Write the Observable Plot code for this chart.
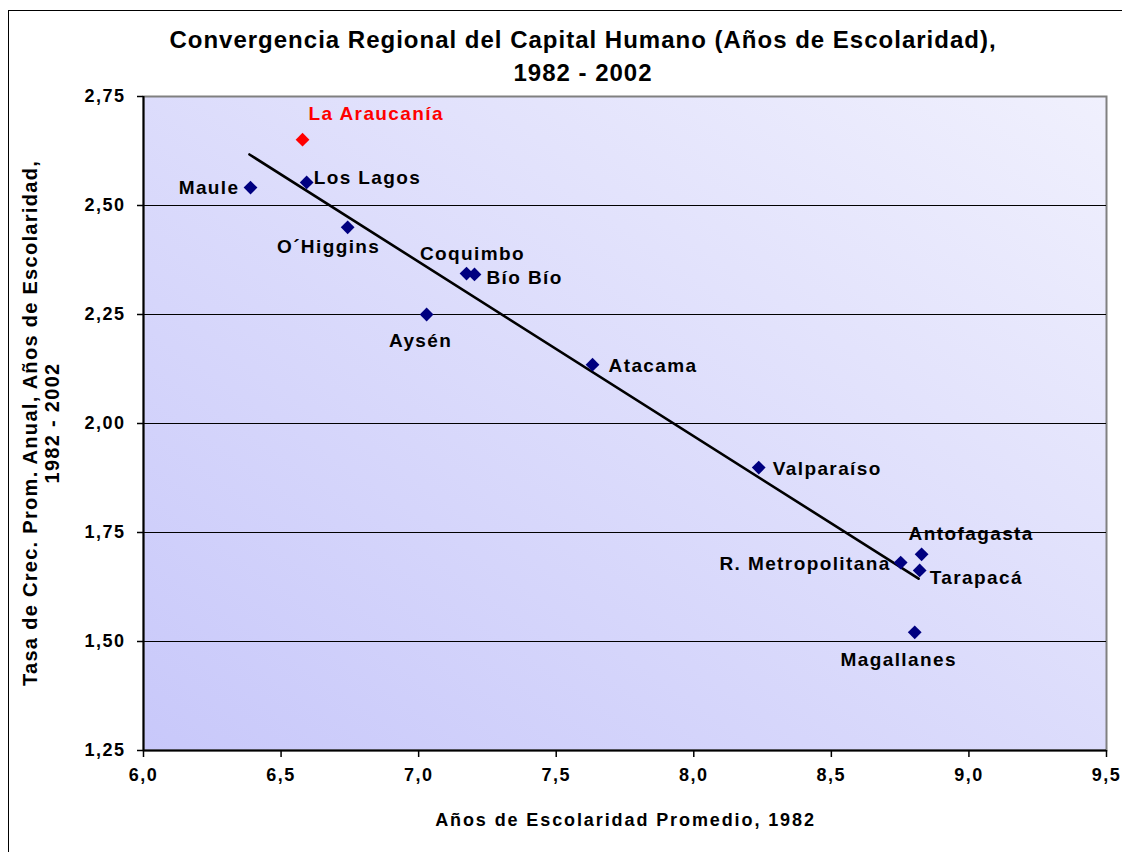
<!DOCTYPE html>
<html>
<head>
<meta charset="utf-8">
<script src="https://cdn.jsdelivr.net/npm/d3@7"></script>
<script src="https://cdn.jsdelivr.net/npm/@observablehq/plot@0.6"></script>
<style>
  html, body { margin: 0; padding: 0; background: #fff; overflow: hidden; width: 1122px; height: 852px; }
  #wrap { position: relative; width: 1122px; height: 852px; font-family: "Liberation Sans", Arial, sans-serif; font-weight: bold; color: #000; }
  #border { position: absolute; left: 8px; top: 10px; width: 1300px; height: 1000px; border: 1.5px solid #000; box-sizing: border-box; }
  #chart { position: absolute; left: 0; top: 0; }
  #title { position: absolute; left: 0; top: 23px; width: 1166px; text-align: center; font-size: 24px; letter-spacing: 1.0px; line-height: 33px; }
  #ytitle { position: absolute; left: -259px; top: 401px; width: 600px; height: 44px; text-align: center; font-size: 20px; letter-spacing: 1.3px; line-height: 22px; transform: rotate(-90deg); transform-origin: 300px 22px; }
  #xtitle { position: absolute; left: 0; top: 808px; width: 1251px; text-align: center; font-size: 18px; letter-spacing: 1.9px; line-height: 24px; }
  svg text { font-family: "Liberation Sans", Arial, sans-serif; font-weight: bold; }
  g[aria-label="y-axis tick label"] text { letter-spacing: 1.5px; }
  g[aria-label="x-axis tick label"] text { letter-spacing: 1.5px; }
  g[aria-label="text"] text { letter-spacing: 1.4px; }
</style>
</head>
<body>
<div id="wrap">
  <div id="border"></div>
  <div id="chart"></div>
  <div id="title">Convergencia Regional del Capital Humano (Años de Escolaridad),<br>1982 - 2002</div>
  <div id="ytitle">Tasa de Crec. Prom. Anual, Años de Escolaridad,<br>1982 - 2002</div>
  <div id="xtitle">Años de Escolaridad Promedio, 1982</div>
</div>
<script>
// ---- Data ----
const regiones = ["La Araucanía", "Maule", "Los Lagos", "O´Higgins", "Coquimbo", "Bío Bío", "Aysén", "Atacama", "Valparaíso", "R. Metropolitana", "Antofagasta", "Tarapacá", "Magallanes"];
const escolaridad1982 = [6.578, 6.389, 6.593, 6.742, 7.174, 7.203, 7.029, 7.632, 8.236, 8.752, 8.828, 8.821, 8.803];
const tasaCrecimiento = [2.651, 2.541, 2.553, 2.450, 2.344, 2.342, 2.250, 2.135, 1.899, 1.681, 1.700, 1.663, 1.521];
const tendenciaX = [6.385, 8.817];
const tendenciaY = [2.617, 1.644];
const xTicks = [6.0, 6.5, 7.0, 7.5, 8.0, 8.5, 9.0, 9.5];
const yTicks = [1.25, 1.50, 1.75, 2.00, 2.25, 2.50, 2.75];
const gridY = [1.50, 1.75, 2.00, 2.25, 2.50];

// label placement (style only)
const labelPlacement = {
  "La Araucanía": ["start", 6, -26],
  "Maule": ["end", -11, 0],
  "Los Lagos": ["start", 7, -4],
  "O´Higgins": ["middle", -19, 20],
  "Coquimbo": ["middle", 6, -20],
  "Bío Bío": ["start", 12, 4],
  "Aysén": ["middle", -6, 26],
  "Atacama": ["start", 16, 1],
  "Valparaíso": ["start", 14, 1],
  "R. Metropolitana": ["end", -10, 1],
  "Antofagasta": ["start", -13, -20],
  "Tarapacá": ["start", 10, 7],
  "Magallanes": ["middle", -16, 28]
};
const highlight = "La Araucanía";

const puntos = regiones.map((r, i) => ({region: r, x: escolaridad1982[i], y: tasaCrecimiento[i]}));
const tendencia = tendenciaX.map((x, i) => ({x, y: tendenciaY[i]}));
const comma = (f) => (d) => d3.format(f)(d).replace(".", ",");

const labelMarks = puntos.map(p => {
  const [anchor, dx, dy] = labelPlacement[p.region];
  return Plot.text([p], {
    x: "x", y: "y", text: "region", textAnchor: anchor, dx, dy,
    fontSize: 19, fontWeight: "bold", fill: p.region === highlight ? "#ff0000" : "#000"
  });
});

const plot = Plot.plot({
  width: 1122,
  height: 852,
  marginLeft: 143,
  marginRight: 16,
  marginTop: 96,
  marginBottom: 102,
  style: {background: "transparent", overflow: "visible"},
  x: {domain: [6, 9.5]},
  y: {domain: [1.25, 2.75]},
  marks: [
    Plot.frame({fill: "url(#bgGrad)", stroke: "#808080", strokeWidth: 2}),
    Plot.ruleY(gridY, {stroke: "#000", strokeWidth: 1.2}),
    Plot.ruleX([6], {stroke: "#000", strokeWidth: 2}),
    Plot.ruleY([1.25], {stroke: "#000", strokeWidth: 2}),
    Plot.axisY({ticks: yTicks, tickFormat: comma(".2f"), tickSize: 6, tickPadding: 12, fontSize: 18, label: null, stroke: "#000", strokeWidth: 1.5, fill: "#000"}),
    Plot.axisX({ticks: xTicks, tickFormat: comma(".1f"), tickSize: 7, tickPadding: 11, fontSize: 18, label: null, stroke: "#000", strokeWidth: 1.5, fill: "#000"}),
    Plot.line(tendencia, {x: "x", y: "y", stroke: "#000", strokeWidth: 2.6}),
    Plot.dot(puntos, {x: "x", y: "y", symbol: "diamond2", r: 6.2, fill: d => d.region === highlight ? "#ff0000" : "#000080", stroke: "none"}),
    ...labelMarks
  ]
});

// gradient definition for the plot area
const ns = "http://www.w3.org/2000/svg";
const defs = document.createElementNS(ns, "defs");
const grad = document.createElementNS(ns, "linearGradient");
grad.setAttribute("id", "bgGrad");
grad.setAttribute("x1", "0"); grad.setAttribute("y1", "1");
grad.setAttribute("x2", "1"); grad.setAttribute("y2", "0");
[["0", "#c8c8fa"], ["1", "#f0f0fd"]].forEach(([o, c]) => {
  const s = document.createElementNS(ns, "stop");
  s.setAttribute("offset", o); s.setAttribute("stop-color", c);
  grad.appendChild(s);
});
defs.appendChild(grad);
plot.insertBefore(defs, plot.firstChild);

document.getElementById("chart").appendChild(plot);
</script>
</body>
</html>
